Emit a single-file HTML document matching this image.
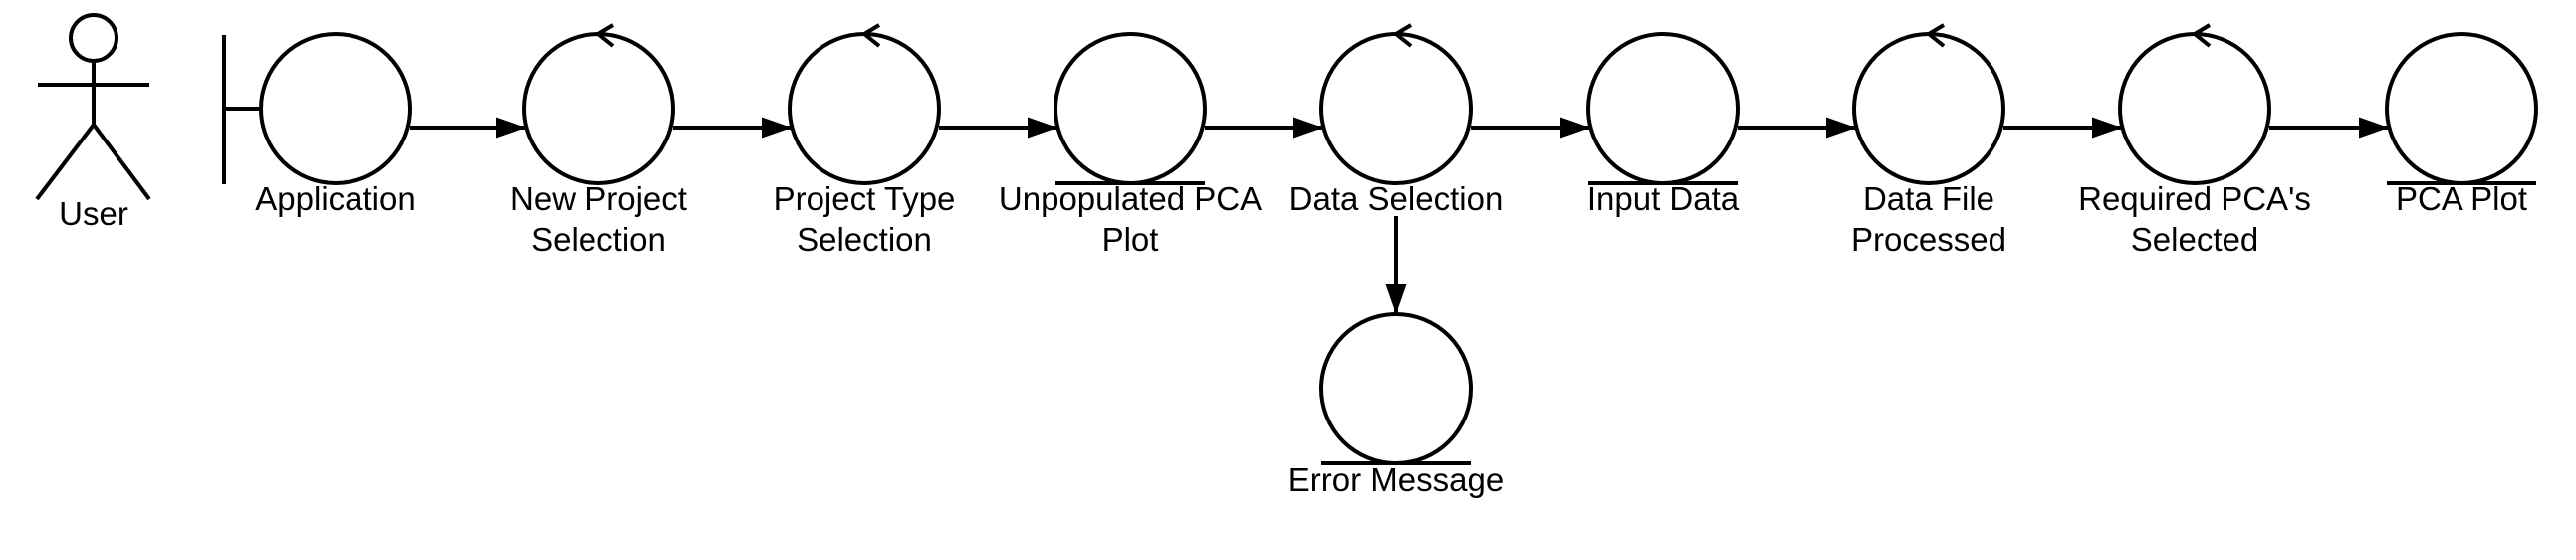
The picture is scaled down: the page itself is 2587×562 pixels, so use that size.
<!DOCTYPE html>
<html><head><meta charset="utf-8"><style>
html,body{margin:0;padding:0;background:#fff;}
svg{display:block;}
text{font-family:"Liberation Sans",sans-serif;font-size:33px;fill:#000;text-anchor:middle;}
</style></head><body>
<svg width="2587" height="562" viewBox="0 0 2587 562" xmlns="http://www.w3.org/2000/svg">
<defs>
<marker id="ah" markerWidth="32" markerHeight="22" refX="30" refY="10.5" orient="auto" markerUnits="userSpaceOnUse">
<path d="M0,0 L30,10.5 L0,21 Z" fill="#000"/>
</marker>
</defs>
<g stroke="#000" stroke-width="4" fill="none">
<circle cx="94" cy="38" r="23"/>
<line x1="38" y1="85" x2="150" y2="85"/>
<line x1="94" y1="61" x2="94" y2="125"/>
<line x1="94" y1="125" x2="37" y2="200"/>
<line x1="94" y1="125" x2="150" y2="200"/>
<line x1="225" y1="35" x2="225" y2="185"/>
<line x1="225" y1="109" x2="262" y2="109"/>
<circle cx="337" cy="109" r="75"/>
<circle cx="601" cy="109" r="75"/>
<circle cx="868" cy="109" r="75"/>
<circle cx="1135" cy="109" r="75"/>
<circle cx="1402" cy="109" r="75"/>
<circle cx="1670" cy="109" r="75"/>
<circle cx="1937" cy="109" r="75"/>
<circle cx="2204" cy="109" r="75"/>
<circle cx="2472" cy="109" r="75"/>
<circle cx="1402" cy="390" r="75"/>
<polyline points="616,25 601,34 616,46"/>
<polyline points="883,25 868,34 883,46"/>
<polyline points="1417,25 1402,34 1417,46"/>
<polyline points="1952,25 1937,34 1952,46"/>
<polyline points="2219,25 2204,34 2219,46"/>
<line x1="1060" y1="184" x2="1210" y2="184"/>
<line x1="1595" y1="184" x2="1745" y2="184"/>
<line x1="2397" y1="184" x2="2547" y2="184"/>
<line x1="1327" y1="465" x2="1477" y2="465"/>
<line x1="412" y1="128" x2="528" y2="128" marker-end="url(#ah)"/>
<line x1="676" y1="128" x2="795" y2="128" marker-end="url(#ah)"/>
<line x1="943" y1="128" x2="1062" y2="128" marker-end="url(#ah)"/>
<line x1="1210" y1="128" x2="1329" y2="128" marker-end="url(#ah)"/>
<line x1="1477" y1="128" x2="1597" y2="128" marker-end="url(#ah)"/>
<line x1="1745" y1="128" x2="1864" y2="128" marker-end="url(#ah)"/>
<line x1="2012" y1="128" x2="2131" y2="128" marker-end="url(#ah)"/>
<line x1="2279" y1="128" x2="2399" y2="128" marker-end="url(#ah)"/>
<line x1="1402" y1="217" x2="1402" y2="315" marker-end="url(#ah)"/>
</g>
<text x="94" y="226">User</text>
<text x="337" y="211">Application</text>
<text x="601" y="211">New Project</text><text x="601" y="252">Selection</text>
<text x="868" y="211">Project Type</text><text x="868" y="252">Selection</text>
<text x="1135" y="211">Unpopulated PCA</text><text x="1135" y="252">Plot</text>
<text x="1402" y="211">Data Selection</text>
<text x="1670" y="211">Input Data</text>
<text x="1937" y="211">Data File</text><text x="1937" y="252">Processed</text>
<text x="2204" y="211">Required PCA's</text><text x="2204" y="252">Selected</text>
<text x="2472" y="211">PCA Plot</text>
<text x="1402" y="493">Error Message</text>
</svg>
</body></html>
